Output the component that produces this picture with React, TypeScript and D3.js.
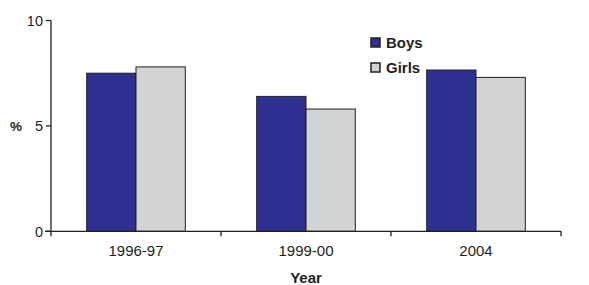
import React from "react";
import * as d3 from "d3";

const categories = ["1996-97", "1999-00", "2004"];
const seriesNames = ["Boys", "Girls"];
const boys = [7.5, 6.4, 7.65];
const girls = [7.8, 5.8, 7.3];
const yTicks = [0, 5, 10];

const colors = ["#2E3192", "#D1D3D4"];
const ink = "#231F20";
const font = "'Liberation Sans', Arial, sans-serif";

export default function App() {
  const W = 589, H = 285;
  const x0 = 51, x1 = 561;
  const yTop = 20.5, yBot = 231.3;
  const x = d3.scaleBand<string>().domain(categories).range([x0, x1]).paddingInner(0).paddingOuter(0);
  const y = d3.scaleLinear().domain([0, 10]).range([yBot, yTop]);
  const groupW = x.bandwidth() * 0.58;
  const xs = d3.scaleBand<string>().domain(seriesNames).range([0, groupW]);
  const data = [boys, girls];
  return (
    <svg width={W} height={H} style={{ position: "absolute", left: 0, top: 0 }} fontFamily={font}>
      {categories.map((c, i) => {
        const gx = (x(c) as number) + (x.bandwidth() - groupW) / 2;
        return seriesNames.map((s, j) => (
          <rect key={c + s} x={gx + (xs(s) as number)} y={y(data[j][i])} width={xs.bandwidth()}
            height={yBot - y(data[j][i])} fill={colors[j]} stroke={ink} strokeWidth={1} />
        ));
      })}
      {/* y axis */}
      <line x1={x0} x2={x0} y1={yTop} y2={yBot + 5} stroke={ink} strokeWidth={1.3} />
      {yTicks.map(t => (
        <g key={t}>
          <line x1={x0 - 5} x2={x0} y1={y(t)} y2={y(t)} stroke={ink} strokeWidth={1.3} />
          <text x={x0 - 8} y={y(t)} dy="0.36em" textAnchor="end" fontSize={14.5} fill={ink}>{t}</text>
        </g>
      ))}
      <text x={10} y={y(5)} dy="0.36em" fontSize={13.5} fontWeight="bold" fill={ink}>%</text>
      {/* x axis */}
      <line x1={x0 - 6} x2={x1} y1={yBot} y2={yBot} stroke={ink} strokeWidth={1.3} />
      {categories.map(c => (
        <g key={c}>
          <line x1={(x(c) as number) + x.bandwidth()} x2={(x(c) as number) + x.bandwidth()} y1={yBot} y2={yBot + 5} stroke={ink} strokeWidth={1.3} />
          <text x={(x(c) as number) + x.bandwidth() / 2} y={256} textAnchor="middle" fontSize={15} fill={ink}>{c}</text>
        </g>
      ))}
      <text x={(x0 + x1) / 2} y={283} textAnchor="middle" fontSize={15} fontWeight="bold" fill={ink}>Year</text>
      {/* legend */}
      {seriesNames.map((s, j) => (
        <g key={s} transform={`translate(371, ${38 + j * 25})`}>
          <rect x={0} y={0} width={9} height={9} fill={colors[j]} stroke={ink} strokeWidth={1.5} />
          <text x={15} y={10} fontSize={15} fontWeight="bold" fill={ink}>{s}</text>
        </g>
      ))}
    </svg>
  );
}
